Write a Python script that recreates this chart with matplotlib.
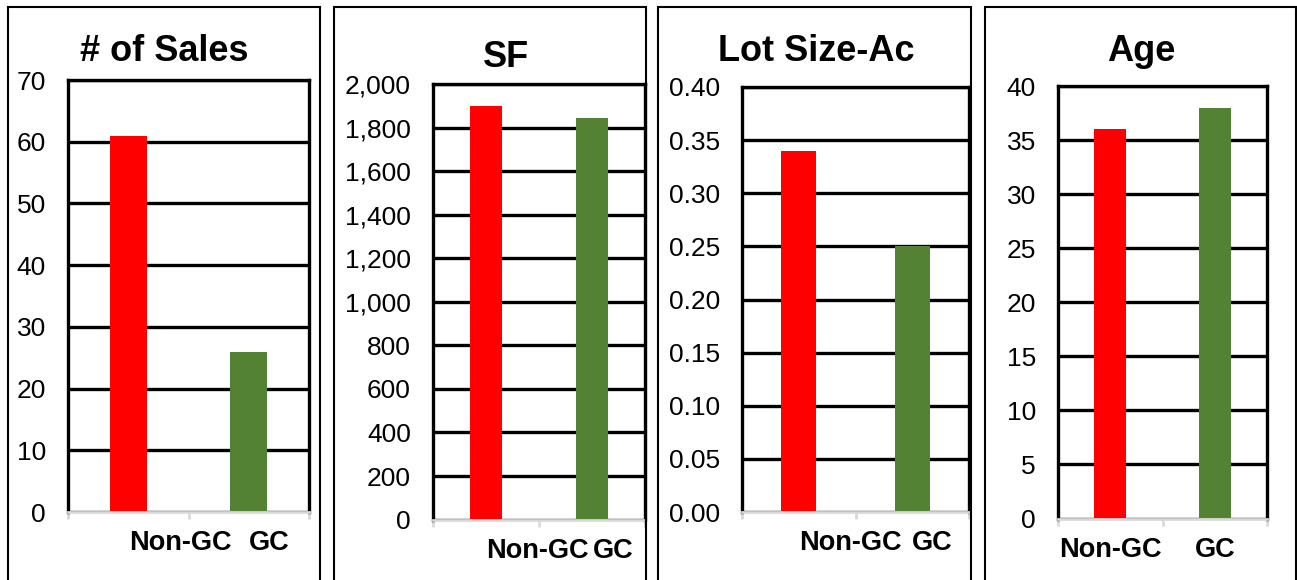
import numpy as np
import matplotlib
matplotlib.use("Agg")
from matplotlib import pyplot as plt
from matplotlib.patches import Rectangle
from matplotlib.ticker import FuncFormatter

plt.rcParams['font.family'] = 'Liberation Sans'

# data
categories = ["Non-GC", "GC"]
titles = ["# of Sales", "SF", "Lot Size-Ac", "Age"]
sales = [61, 26]
sq_feet = [1900, 1845]
lot_size = [0.34, 0.25]
age = [36, 38]
values = [sales, sq_feet, lot_size, age]
y_max = [70, 2000, 0.40, 40]
y_step = [10, 200, 0.05, 5]
fmts = ["{:.0f}", "{:,.0f}", "{:.2f}", "{:.0f}"]
bar_colors = ["#ff0000", "#548235"]

W, H = 1297, 580
fig = plt.figure(figsize=(W / 100, H / 100), dpi=100)

# layout in pixels: axes left, right, top, bottom
ax_px = [(68, 309, 80, 512), (433, 645, 84, 519.6),
         (742, 969, 87, 512), (1058, 1267, 86, 518.5)]
box_px = [(8, 320), (334, 646), (658, 971), (985, 1296)]
title_px = [(164, 61), (506, 67), (816, 61), (1141, 61)]
label_x = [(0.43, 1.168), (0.481, 1.198), (0.452, 1.174), (0.0, 1.0)]

for i in range(4):
    l, r, t, b = ax_px[i]
    ax = fig.add_axes([l / W, (H - b) / H, (r - l) / W, (b - t) / H])
    x = np.arange(len(categories))
    ax.bar(x, values[i], width=0.31, color=bar_colors, zorder=3)
    ax.set_xlim(-0.5, 1.5)
    ax.set_ylim(0, y_max[i])
    ticks = np.linspace(0, y_max[i], int(round(y_max[i] / y_step[i])) + 1)
    ax.set_yticks(ticks)
    f = fmts[i]
    ax.yaxis.set_major_formatter(FuncFormatter(lambda v, p, f=f: f.format(v)))
    ax.tick_params(axis='y', length=0, pad=16, labelsize=19)
    ax.grid(axis='y', color='black', linewidth=2.4, zorder=1)

    ax.set_xticks(label_x[i])
    ax.set_xticklabels(categories, fontweight='bold', fontsize=19.5)
    ax.set_xticks([-0.5, 0.5, 1.5], minor=True)
    ax.tick_params(axis='x', which='major', length=0, pad=13)
    ax.tick_params(axis='x', which='minor', length=5, width=2,
                   color='#d9d9d9', direction='out')

    for s in ['left', 'top', 'right']:
        ax.spines[s].set_color('black')
        ax.spines[s].set_linewidth(2.4)
    ax.spines['bottom'].set_color('#d9d9d9')
    ax.spines['bottom'].set_linewidth(2)
    ax.spines['bottom'].set_zorder(4)

    bl, br = box_px[i]
    fig.patches.append(Rectangle((bl / W, -0.2), (br - bl) / W, (H - 7) / H + 0.2,
                                 transform=fig.transFigure, fill=False,
                                 edgecolor='black', linewidth=1.5))
    tx, ty = title_px[i]
    fig.text(tx / W, (H - ty) / H, titles[i], ha='center', va='baseline',
             fontsize=26, fontweight='bold')

fig.savefig("out.png", dpi=100)
